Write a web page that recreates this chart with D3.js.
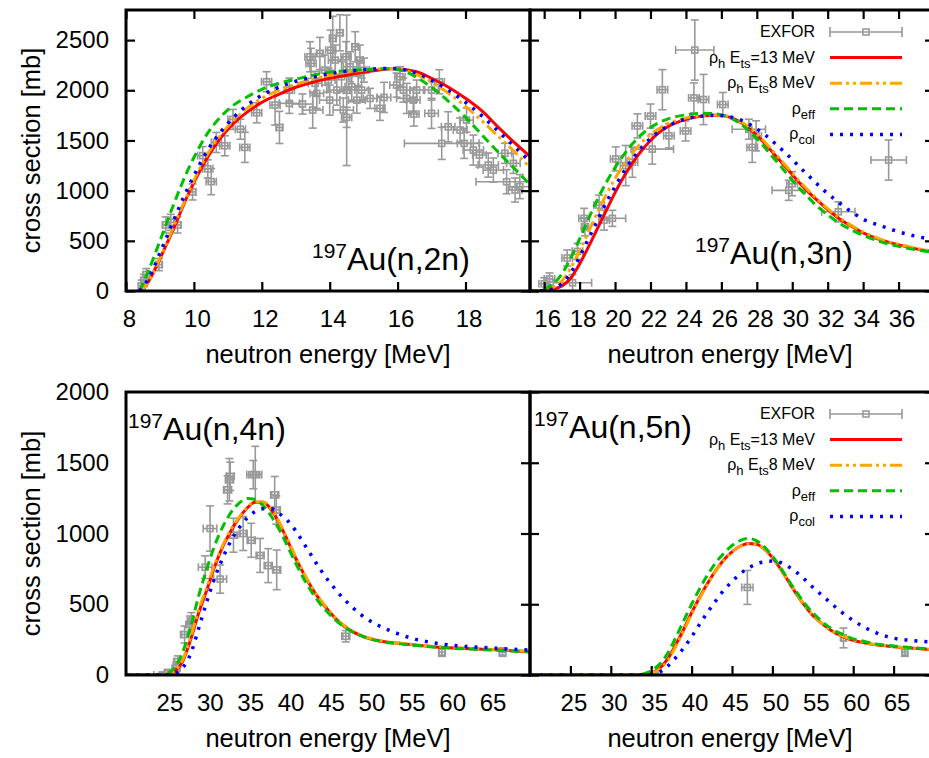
<!DOCTYPE html>
<html><head><meta charset="utf-8">
<script src="https://cdn.jsdelivr.net/npm/d3@7"></script>
<style>
body{margin:0;background:#fff}
svg{display:block}
text{font-family:"Liberation Sans",Arial,Helvetica,sans-serif;fill:#000}
</style>
</head><body>
<svg id="c" width="929" height="758"></svg>
<script>
// ---------------- data ----------------
const seriesNames = ["EXFOR", "ph13", "ph8", "eff", "col"];

// (n,2n) model curves
const e2n    = [8.4,8.6,8.8,9.0,9.2,9.4,9.6,9.8,10.0,10.4,10.8,11.2,11.6,12.0,12.5,13.0,13.5,14.0,14.5,15.0,15.5,15.8,16.2,16.6,17.0,17.5,18.0,18.5,19.0,19.5,19.9];
const ph13_2n= [0,60,180,320,470,620,780,940,1080,1330,1530,1680,1790,1880,1960,2030,2080,2120,2150,2180,2205,2215,2205,2180,2120,2030,1920,1790,1620,1460,1340];
const ph8_2n = [0,60,180,330,480,640,800,950,1100,1360,1560,1710,1830,1920,2000,2060,2110,2150,2180,2200,2215,2218,2200,2150,2080,1970,1840,1690,1530,1370,1230];
const eff_2n = [0,150,320,500,680,860,1030,1190,1330,1570,1740,1860,1940,2010,2070,2110,2150,2180,2195,2205,2215,2215,2190,2120,2030,1890,1730,1550,1370,1200,1060];
const col_2n = [0,90,220,380,540,700,860,1010,1150,1400,1590,1740,1860,1950,2030,2090,2130,2165,2190,2205,2215,2218,2205,2165,2100,2000,1880,1740,1580,1420,1290];

// (n,3n) model curves
const e3n    = [15.2,15.5,16,16.5,17,17.5,18,18.5,19,19.5,20,20.5,21,21.5,22,22.5,23,23.5,24,24.5,25,25.5,26,26.5,27,27.5,28,28.5,29,29.5,30,30.5,31,31.5,32,32.5,33,33.5,34,35,36,37,38];
const ph13_3n= [0,0,5,20,50,130,270,440,620,800,980,1140,1280,1400,1500,1580,1640,1680,1710,1730,1745,1752,1750,1730,1690,1630,1550,1460,1360,1260,1160,1060,970,890,810,740,680,630,580,510,460,420,390];
const ph8_3n = [0,0,10,35,100,230,400,590,780,960,1120,1260,1380,1480,1560,1620,1670,1700,1725,1740,1750,1755,1750,1735,1695,1640,1565,1475,1375,1275,1175,1075,985,900,820,750,690,635,590,515,465,425,395];
const eff_3n = [0,0,20,70,170,330,520,720,910,1080,1230,1360,1470,1560,1630,1680,1715,1740,1755,1765,1770,1768,1755,1725,1675,1605,1520,1420,1315,1210,1105,1005,915,830,760,695,640,595,555,490,445,410,385];
const col_3n = [0,0,8,25,75,180,340,520,700,880,1040,1190,1320,1430,1520,1590,1645,1685,1715,1735,1745,1750,1748,1735,1710,1670,1615,1550,1475,1395,1310,1220,1135,1050,970,900,830,770,715,650,590,545,510];

// (n,4n) model curves
const e4n    = [20,24,25,26,27,28,29,30,31,32,33,34,35,36,37,38,39,40,41,42,43,44,45,46,47,48,49,50,52,54,56,58,60,65,70];
const ph13_4n= [0,0,3,25,95,250,440,600,770,910,1020,1110,1180,1220,1220,1165,1070,950,825,715,615,530,460,395,345,308,280,260,235,222,210,200,193,180,165];
const ph8_4n = [0,0,4,30,105,265,460,620,785,920,1030,1115,1185,1222,1222,1170,1078,958,835,722,622,537,465,400,350,312,284,263,237,224,212,202,195,182,167];
const eff_4n = [0,0,10,50,160,340,560,750,920,1050,1150,1215,1248,1240,1195,1120,1025,910,790,680,585,505,440,385,340,305,280,258,232,220,208,198,190,177,162];
const col_4n = [0,0,1,10,50,150,330,520,690,830,950,1040,1110,1155,1175,1175,1140,1090,1020,930,840,750,670,600,535,480,430,390,330,285,250,228,212,192,176];

// (n,5n) model curves
const e5n    = [20,30,33,34,35,36,37,38,39,40,41,42,43,44,45,46,47,48,49,50,51,52,53,54,55,56,57,58,59,60,61,62,63,64,65,67,70];
const ph13_5n= [0,0,0,3,15,45,110,210,320,440,550,650,740,815,870,910,930,925,890,830,750,660,570,490,420,370,325,290,265,245,232,220,212,206,200,190,178];
const ph8_5n = [0,0,0,2,12,40,100,198,310,430,542,645,737,812,868,908,928,925,892,833,753,663,573,493,423,372,327,292,267,247,234,222,214,207,201,191,179];
const eff_5n = [0,0,0,8,30,75,150,260,380,500,610,710,795,860,915,950,965,950,905,840,760,670,585,505,440,385,340,305,280,255,242,228,218,211,205,195,180];
const col_5n = [0,0,0,0,3,20,60,120,190,270,360,445,525,600,660,715,755,785,800,805,795,765,725,675,620,570,520,470,425,385,350,320,295,275,260,245,232];

// EXFOR points: [energy MeV, sigma mb, dE, dSigma]
const exp2n = [
[8.46,49,0.1,60],[8.53,105,0.1,60],[8.6,164,0.1,60],[8.97,263,0.1,60],[9.17,658,0.1,80],
[9.32,684,0.1,80],[9.52,658,0.1,80],[9.96,987,0.1,80],[10.26,1349,0.15,90],[10.41,1217,0.15,90],
[10.51,1090,0.15,130],[10.66,1480,0.15,100],[10.91,1447,0.15,100],[11.15,1710,0.15,100],[11.37,1612,0.15,100],
[11.5,1431,0.15,150],[11.85,1776,0.15,100],[12.14,2085,0.15,100],[12.39,1853,0.15,200],[12.52,1630,0.1,160],
[12.81,1870,0.3,100],[12.81,2002,0.15,120],[13.2,1863,0.3,100],[13.42,2334,0.15,150],[13.45,2268,0.15,150],
[13.5,1803,0.3,180],[13.57,2069,0.2,120],[13.62,1969,0.2,150],[13.71,2367,0.1,160],[13.86,2201,0.15,150],
[13.96,2102,0.2,120],[14.0,1902,0.3,150],[14.03,2400,0.15,200],[14.09,2517,0.1,220],[14.16,2301,0.2,150],
[14.21,2002,0.3,150],[14.3,2573,0.1,180],[14.35,2135,0.2,150],[14.4,1803,0.3,120],[14.48,2334,0.15,150],
[14.5,2000,0.1,750],[14.5,1730,0.15,100],[14.6,2234,0.2,150],[14.65,2035,0.2,150],[14.75,2434,0.1,150],
[14.8,1902,0.25,130],[14.84,2168,0.15,120],[14.89,2301,0.1,150],[14.94,2002,0.2,120],[15.01,2201,0.15,120],
[15.19,1919,0.2,100],[15.48,1820,0.15,120],[15.6,1929,0.2,150],[15.97,2052,0.2,120],[16.07,2135,0.15,100],
[16.17,2002,0.2,120],[16.27,1919,0.3,150],[16.46,1902,0.2,120],[16.48,1763,0.15,120],[16.56,2002,0.2,100],
[17.0,1770,0.2,150],[17.0,2002,0.2,100],[17.23,2085,0.15,120],[17.3,1471,1.1,160],[17.49,1636,0.2,150],
[17.84,1604,0.2,120],[17.96,1471,0.2,150],[18.03,1703,0.2,120],[18.23,1404,0.3,150],[18.41,1355,0.2,120],
[18.67,1255,0.3,120],[18.82,1205,0.3,120],[19.16,1372,0.2,100],[19.21,1089,0.9,120],[19.41,1272,0.2,100],
[19.46,1006,0.2,120],[19.6,1040,0.3,120]
];
const exp3n = [
[16.0,72,0.3,60],[16.3,120,0.3,60],[17.3,329,0.3,80],[17.6,82,1.08,80],[17.88,395,0.3,80],
[18.25,724,0.3,100],[18.3,640,0.2,90],[19.1,855,0.3,100],[19.38,707,0.3,100],[19.85,724,0.75,80],
[20.04,1316,0.3,120],[20.6,1250,0.3,200],[20.98,1283,0.3,150],[21.26,1645,0.3,120],[22.0,1743,0.3,120],
[22.1,1414,1.2,150],[22.67,2006,0.3,200],[23.04,1546,0.3,120],[23.98,1595,0.3,100],[24.45,1924,0.3,150],
[24.5,2401,1.08,300],[24.99,1908,0.3,250],[26.08,1858,0.3,120],[27.55,1612,0.94,100],[27.74,1431,0.3,150],
[27.96,1546,0.3,150],[29.8,1003,0.94,100],[29.99,1069,0.3,120],[32.6,789,0.94,100],[35.44,1305,1.0,200]
];
const exp4n = [
[24.5,0,1.05,20],[25.2,10,0.5,30],[26.2,48,0.5,40],[26.4,95,0.5,40],[27.25,286,0.5,60],
[27.9,357,0.5,60],[28.1,381,0.5,60],[29.8,762,0.84,80],[30.4,1035,0.84,160],[31.65,678,0.8,100],
[32.57,1309,0.5,100],[32.8,1380,0.5,150],[32.9,1404,0.5,100],[33.3,988,0.5,120],[34.5,1000,0.5,120],
[35.5,952,0.5,120],[35.75,1416,0.8,100],[36.0,1416,0.8,200],[36.6,845,0.5,120],[37.6,773,0.5,120],
[38.4,1273,0.5,130],[38.6,1166,0.5,100],[38.65,743,0.5,140],[47.2,274,0.5,40],[59.1,162,0.4,30],
[66.6,162,0.4,30]
];
const exp5n = [
[35.5,0,0.8,10],[46.9,619,0.7,120],[58.8,262,0.3,70],[66.4,162,0.3,30]
];

// tick values
const xTicks2n = [8,10,12,14,16,18];
const xTicks3n = [16,18,20,22,24,26,28,30,32,34,36];
const xTicks45 = [25,30,35,40,45,50,55,60,65];
const yTicksTop = [0,500,1000,1500,2000,2500];
const yTicksBot = [0,500,1000,1500,2000];

const reactions = ["(n,2n)","(n,3n)","(n,4n)","(n,5n)"];
const xTitle = "neutron energy [MeV]";
const yTitle = "cross section [mb]";

// ---------------- layout ----------------
const svg = d3.select("#c");
const styles = {
  ph13: {color:"#ff0000", dash:null, width:3},
  ph8:  {color:"#ffa500", dash:"12,4,3,4,3,4", width:3},
  eff:  {color:"#00c000", dash:"9,5", width:3},
  col:  {color:"#0000ff", dash:"3,7", width:3.5}
};
const gray = "#999999";

const panels = [
  {box:[126,530,10,291], xd:[8,19.9], yd:[0,2800], xt:xTicks2n, yt:yTicksTop, ylab:true,
   E:e2n, c:{ph13:ph13_2n, ph8:ph8_2n, eff:eff_2n, col:col_2n}, exp:exp2n, r:reactions[0], ann:[312,270], legend:false},
  {box:[530,934,10,291], xd:[15.2,38], yd:[0,2800], xt:xTicks3n, yt:yTicksTop, ylab:false,
   E:e3n, c:{ph13:ph13_3n, ph8:ph8_3n, eff:eff_3n, col:col_3n}, exp:exp3n, r:reactions[1], ann:[695,264], legend:true},
  {box:[126,530,392,675], xd:[20,70], yd:[0,2000], xt:xTicks45, yt:yTicksBot, ylab:true,
   E:e4n, c:{ph13:ph13_4n, ph8:ph8_4n, eff:eff_4n, col:col_4n}, exp:exp4n, r:reactions[2], ann:[128,440], legend:false},
  {box:[530,934,392,675], xd:[20,70], yd:[0,2000], xt:xTicks45, yt:yTicksBot, ylab:false,
   E:e5n, c:{ph13:ph13_5n, ph8:ph8_5n, eff:eff_5n, col:col_5n}, exp:exp5n, r:reactions[3], ann:[534,438], legend:true}
];

const fs = {tick:24, title:25.5, ann:32, annSup:21, leg:16};

panels.forEach((p,i)=>{
  const [x0,x1,y0,y1] = p.box;
  const x = d3.scaleLinear().domain(p.xd).range([x0,x1]);
  const y = d3.scaleLinear().domain(p.yd).range([y1,y0]);
  const g = svg.append("g");
  const cid = "clip"+i;
  svg.append("clipPath").attr("id",cid).append("rect")
     .attr("x",x0).attr("y",y0).attr("width",x1-x0).attr("height",y1-y0);
  const plot = g.append("g").attr("clip-path","url(#"+cid+")");

  // EXFOR error bars
  const ex = plot.append("g").attr("stroke",gray).attr("stroke-width",1.6).attr("fill","none");
  p.exp.forEach(d=>{
    const cx=x(d[0]), cy=y(d[1]);
    const xa=x(d[0]-d[2]), xb=x(d[0]+d[2]);
    const ya=y(d[1]-d[3]), yb=y(d[1]+d[3]);
    ex.append("line").attr("x1",xa).attr("x2",xb).attr("y1",cy).attr("y2",cy);
    ex.append("line").attr("x1",cx).attr("x2",cx).attr("y1",ya).attr("y2",yb);
    ex.append("line").attr("x1",xa).attr("x2",xa).attr("y1",cy-4).attr("y2",cy+4);
    ex.append("line").attr("x1",xb).attr("x2",xb).attr("y1",cy-4).attr("y2",cy+4);
    ex.append("line").attr("x1",cx-4).attr("x2",cx+4).attr("y1",ya).attr("y2",ya);
    ex.append("line").attr("x1",cx-4).attr("x2",cx+4).attr("y1",yb).attr("y2",yb);
    ex.append("rect").attr("x",cx-3).attr("y",cy-3).attr("width",6).attr("height",6);
  });

  // model curves
  const line = d3.line().x((d,k)=>x(p.E[k])).y(d=>y(d)).curve(d3.curveMonotoneX);
  ["ph13","ph8","eff","col"].forEach(k=>{
    const s = styles[k];
    plot.append("path").datum(p.c[k]).attr("d",line)
      .attr("fill","none").attr("stroke",s.color).attr("stroke-width",s.width)
      .attr("stroke-dasharray",s.dash);
  });

  // axes (inward ticks)
  const tickW = 2.2, tl = 9;
  const ax = (gen, tx, ty) => {
    const a = g.append("g").attr("transform",`translate(${tx},${ty})`).call(gen);
    a.select(".domain").remove();
    a.selectAll(".tick line").attr("stroke","#000").attr("stroke-width",tickW);
    a.selectAll("text").style("font-size",fs.tick+"px").attr("fill","#000")
      .style("font-family",'"Liberation Sans",Arial,sans-serif');
    return a;
  };
  const isBottomRow = y0 > 300;
  const xb = ax(d3.axisBottom(x).tickValues(p.xt).tickSize(i===2 ? 0 : -tl).tickPadding(19).tickFormat(d3.format("d")), 0, y1);
  xb.selectAll("text").attr("dx",3);
  if(!isBottomRow) ax(d3.axisTop(x).tickValues(p.xt).tickSize(-tl).tickFormat(""), 0, y0);
  ax(d3.axisLeft(y).tickValues(p.yt).tickSize(i===2?0:-tl).tickPadding(17).tickFormat(p.ylab?d3.format("d"):""), x0, 0);
  ax(d3.axisRight(y).tickValues(p.yt).tickSize(-tl).tickFormat(""), x1, 0);

  // border
  g.append("rect").attr("x",x0).attr("y",y0).attr("width",x1-x0).attr("height",y1-y0)
    .attr("fill","none").attr("stroke","#000").attr("stroke-width",3);

  // axis titles
  g.append("text").attr("x",(x0+x1)/2 - (i%2?2:0)).attr("y",y1+72).attr("text-anchor","middle")
    .style("font-size",fs.title+"px").text(xTitle);
  if(p.ylab){
    g.append("text").attr("transform",`translate(40,${(y0+y1)/2}) rotate(-90)`)
      .attr("text-anchor","middle").style("font-size",fs.title+"px").text(yTitle);
  }

  // reaction annotation
  const t = g.append("text").attr("x",p.ann[0]).attr("y",p.ann[1]).style("font-size",fs.ann+"px");
  t.append("tspan").attr("dy",-12).style("font-size",fs.annSup+"px").text("197");
  t.append("tspan").attr("dy",12).text("Au"+p.r);

  // legend
  if(p.legend){
    const lx = 815, sx0 = 830, sx1 = 902, ly0 = y0+22, dy = 25.6;
    const lg = g.append("g");
    const labels = [
      [["EXFOR",null]],
      [["ρ",null],["h","sub"],[" E",null],["ts","sub"],["=13 MeV",null]],
      [["ρ",null],["h","sub"],[" E",null],["ts","sub"],["8 MeV",null]],
      [["ρ",null],["eff","sub"]],
      [["ρ",null],["col","sub"]]
    ];
    seriesNames.forEach((nm,k)=>{
      const yy = ly0 + k*dy;
      const tx = lg.append("text").attr("x",lx).attr("y",yy+5).attr("text-anchor","end").style("font-size",fs.leg+"px");
      let sub=false;
      labels[k].forEach(([s,typ])=>{
        const ts = tx.append("tspan").text(s);
        if(typ==="sub" && !sub){ ts.attr("dy",5).style("font-size","13px"); sub=true; }
        else if(typ==="sub"){ ts.style("font-size","13px"); }
        else if(sub){ ts.attr("dy",-5); sub=false; }
      });
      if(nm==="EXFOR"){
        lg.append("line").attr("x1",sx0).attr("x2",sx1).attr("y1",yy).attr("y2",yy).attr("stroke",gray).attr("stroke-width",1.6);
        [sx0,sx1].forEach(xx=>lg.append("line").attr("x1",xx).attr("x2",xx).attr("y1",yy-5).attr("y2",yy+5).attr("stroke",gray).attr("stroke-width",1.6));
        lg.append("rect").attr("x",(sx0+sx1)/2-3).attr("y",yy-3).attr("width",6).attr("height",6).attr("fill","none").attr("stroke",gray).attr("stroke-width",1.6);
      } else {
        const s = styles[nm];
        lg.append("line").attr("x1",sx0).attr("x2",sx1).attr("y1",yy).attr("y2",yy)
          .attr("stroke",s.color).attr("stroke-width",s.width).attr("stroke-dasharray",s.dash);
      }
    });
  }
});
</script>
</body></html>
